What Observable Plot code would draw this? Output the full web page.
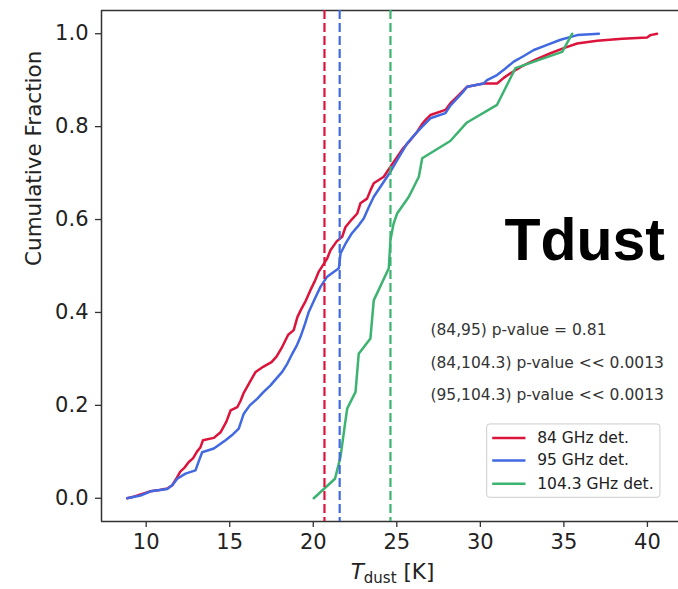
<!DOCTYPE html>
<html><head><meta charset="utf-8">
<script src="https://cdn.jsdelivr.net/npm/d3@7"></script>
<script src="https://cdn.jsdelivr.net/npm/@observablehq/plot@0.6"></script>
<style>html,body{margin:0;padding:0;background:#fff;}</style>
</head><body><div id="chart"></div>
<script>
// ---- data ----
const t84 = [8.86,9.3,9.66,10.0,10.26,10.8,11.26,11.56,11.8,12.05,12.3,12.55,12.8,13.05,13.25,13.4,14.05,14.45,14.8,15.05,15.45,15.65,15.84,16.2,16.55,17.0,17.5,17.8,18.1,18.5,18.83,19.05,19.25,19.55,19.83,20.1,20.33,20.6,20.83,21.03,21.4,21.73,21.93,22.3,22.63,22.82,23.22,23.45,23.62,24.22,24.62,25.02,25.35,25.72,26.22,26.5,26.71,27.01,27.91,28.2,28.51,28.9,29.21,30.2,31.0,31.4,31.8,32.5,33.3,34.2,34.99,35.79,36.99,38.5,39.98,40.18,40.58];
const f84 = [0.0,0.004,0.008,0.012,0.015,0.018,0.021,0.028,0.042,0.058,0.066,0.078,0.086,0.101,0.11,0.125,0.13,0.142,0.165,0.189,0.196,0.21,0.227,0.25,0.272,0.283,0.293,0.305,0.323,0.352,0.362,0.39,0.405,0.425,0.448,0.468,0.488,0.503,0.516,0.534,0.553,0.563,0.584,0.6,0.613,0.635,0.645,0.665,0.678,0.692,0.714,0.735,0.752,0.767,0.789,0.805,0.814,0.825,0.836,0.85,0.861,0.875,0.886,0.893,0.893,0.905,0.915,0.93,0.944,0.958,0.969,0.979,0.985,0.989,0.992,0.997,1.0];
const t95 = [8.86,9.66,10.26,11.26,11.56,11.86,12.35,12.95,13.15,13.35,14.05,14.75,15.2,15.54,15.84,16.2,16.64,17.0,17.44,17.8,18.14,18.45,18.74,19.0,19.23,19.5,19.73,20.1,20.43,20.83,21.53,21.63,21.93,22.3,22.73,23.02,23.3,23.62,24.1,24.62,25.1,25.62,26.1,26.52,27.01,27.91,28.2,28.51,28.9,29.21,30.2,30.4,31.0,31.5,32.0,32.6,33.2,34.0,34.8,35.8,37.1];
const f95 = [0.0,0.006,0.015,0.02,0.028,0.042,0.053,0.06,0.08,0.099,0.107,0.125,0.138,0.15,0.182,0.2,0.214,0.228,0.243,0.258,0.272,0.29,0.311,0.328,0.347,0.375,0.401,0.43,0.455,0.477,0.495,0.527,0.548,0.57,0.588,0.602,0.625,0.649,0.675,0.703,0.733,0.764,0.784,0.8,0.818,0.829,0.845,0.857,0.872,0.886,0.893,0.9,0.911,0.925,0.94,0.952,0.965,0.976,0.987,0.997,1.0];
const t104 = [20.03,21.3,21.63,21.9,22.03,22.53,22.72,23.42,23.62,24.52,24.62,24.8,25.02,25.72,26.32,26.52,28.2,29.2,31.0,32.1,34.9,35.5];
const f104 = [0.0,0.042,0.089,0.16,0.193,0.229,0.311,0.344,0.426,0.495,0.556,0.59,0.613,0.649,0.692,0.732,0.769,0.809,0.847,0.926,0.961,1.0];
const seriesNames = ["84 GHz det.", "95 GHz det.", "104.3 GHz det."];
const medians = [20.67, 21.58, 24.62];
const xTicks = [10, 15, 20, 25, 30, 35, 40];
const yTicks = [0, 0.2, 0.4, 0.6, 0.8, 1.0];
const pTexts = ["(84,95) p-value = 0.81", "(84,104.3) p-value << 0.0013", "(95,104.3) p-value << 0.0013"];
const panelLabel = "Tdust";
const yLabel = "Cumulative Fraction";

// ---- styling / layout ----
const colors = ["#dc143c", "#4169e1", "#3cb371"];
const xDomain = [7.325, 41.86];
const yDomain = [-0.05, 1.05];
const W = 678, H = 589;
const mL = 101, mR = 0, mT = 10, mB = 68;
const font = "'DejaVu Sans', sans-serif";

// build tables
const curves = [];
[[t84, f84], [t95, f95], [t104, f104]].forEach(([t, f], i) => {
  t.forEach((v, j) => curves.push({series: seriesNames[i], t: v, f: f[j]}));
});
const medRows = medians.map((m, i) => ({series: seriesNames[i], t: m}));
const pRows = pTexts.map((s, i) => ({s, x: 27.01, y: [0.3616, 0.2912, 0.2216][i]}));
const legendBox = [{x1: 30.41, x2: 40.78, y1: 0.001, y2: 0.159}];
const legendRows = seriesNames.map((s, i) => ({series: s, y: [0.130, 0.0815, 0.031][i]}));

const chart = Plot.plot({
  width: W, height: H,
  marginLeft: mL, marginRight: mR, marginTop: mT, marginBottom: mB,
  style: {fontFamily: font, fontSize: "21px", color: "#222", background: "#fff"},
  x: {domain: xDomain},
  y: {domain: yDomain},
  color: {domain: seriesNames, range: colors},
  marks: [
    Plot.ruleY([yDomain[1]], {stroke: "#333", strokeWidth: 1.5}),
    Plot.ruleY([yDomain[0]], {stroke: "#333", strokeWidth: 1.5}),
    Plot.ruleX([xDomain[0]], {stroke: "#333", strokeWidth: 1.5}),
    Plot.axisX({ticks: xTicks, tickSize: 6, tickPadding: 7, label: null, stroke: "#333", strokeWidth: 1.3, fontSize: 21, tickFormat: d3.format("d")}),
    Plot.axisY({ticks: yTicks, tickSize: 6, tickPadding: 7, label: null, stroke: "#333", strokeWidth: 1.3, fontSize: 21, tickFormat: d3.format(".1f")}),
    Plot.line(curves, {x: "t", y: "f", z: "series", stroke: "series", strokeWidth: 2.5}),
    Plot.ruleX(medRows, {x: "t", stroke: "series", strokeWidth: 2.2, strokeDasharray: "9,4"}),
    Plot.text(pRows, {x: "x", y: "y", text: "s", textAnchor: "start", fontSize: 15.5, fill: "#333", fontFamily: font}),
    Plot.rect(legendBox, {x1: "x1", x2: "x2", y1: "y1", y2: "y2", fill: "white", fillOpacity: 0.85, stroke: "#ccc", strokeWidth: 1, rx: 3}),
    Plot.link(legendRows, {x1: () => 30.71, x2: () => 32.70, y1: "y", y2: "y", stroke: "series", strokeWidth: 2.5}),
    Plot.text(legendRows, {x: () => 33.4, y: "y", text: "series", textAnchor: "start", fontSize: 15.5, fill: "#222", fontFamily: font}),
    Plot.text([panelLabel], {x: () => 31.44, y: () => 0.5125, text: d => d, textAnchor: "start", lineAnchor: "bottom", fontSize: 59, fontWeight: "bold", fill: "#000", fontFamily: "'Liberation Sans', Arial, sans-serif"}),
    Plot.text([yLabel], {frameAnchor: "left", dx: -67, rotate: -90, text: d => d, fontSize: 21.5, fill: "#222", fontFamily: font})
  ]
});

// x-axis label with italic T and subscript
const sel = d3.select(chart);
const lab = sel.append("text")
  .attr("x", (mL + W) / 2 + 3).attr("y", 579)
  .attr("text-anchor", "middle")
  .attr("font-family", font).attr("font-size", 21.5).attr("fill", "#222");
lab.append("tspan").attr("font-style", "italic").text("T");
lab.append("tspan").attr("font-size", 15).attr("dy", 4).text("dust");
lab.append("tspan").attr("dy", -4).text(" [K]");

document.getElementById("chart").appendChild(chart);
</script>
</body></html>
